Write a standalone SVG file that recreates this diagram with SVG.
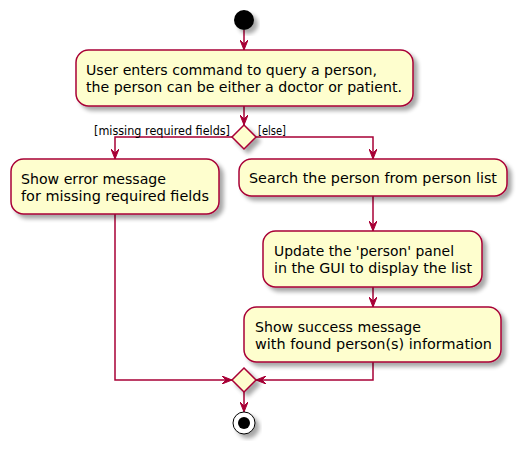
<svg xmlns="http://www.w3.org/2000/svg" width="527" height="450" viewBox="0 0 527 450">
<style>
.box{fill:#FEFECE;stroke:#A80036;stroke-width:1.5;filter:url(#sh)}
.dia{fill:#FEFECE;stroke:#A80036;stroke-width:1.5;filter:url(#sh)}
.t{font-family:"DejaVu Sans",sans-serif;font-size:13.5px;fill:#000}
.lbl{font-family:"DejaVu Sans",sans-serif;font-size:12px;fill:#000}
.c{fill:none;stroke:#A80036;stroke-width:1.5}
</style>
<defs>
<filter id="sh" x="-20%" y="-20%" width="150%" height="150%">
<feGaussianBlur in="SourceAlpha" stdDeviation="2"/>
<feOffset dx="4" dy="4" result="b"/>
<feComponentTransfer><feFuncA type="linear" slope="0.35"/></feComponentTransfer>
<feMerge><feMergeNode/><feMergeNode in="SourceGraphic"/></feMerge>
</filter>
<marker id="ah" viewBox="0 0 10 8" refX="10" refY="4" markerWidth="10" markerHeight="8" markerUnits="userSpaceOnUse" orient="auto">
<path d="M0,0 L10,4 L0,8 L4,4 Z" fill="#A80036" stroke="#A80036" stroke-width="1"/>
</marker>
</defs>
<g id="connectors">
<path class="c" d="M244,30 L244,50" marker-end="url(#ah)"/>
<path class="c" d="M244,106 L244,125" marker-end="url(#ah)"/>
<path class="c" d="M232,137 L115,137 L115,159" marker-end="url(#ah)"/>
<path class="c" d="M256,137 L373,137 L373,159" marker-end="url(#ah)"/>
<path class="c" d="M373,196 L373,231" marker-end="url(#ah)"/>
<path class="c" d="M373,287 L373,307" marker-end="url(#ah)"/>
<path class="c" d="M115,214 L115,380 L232,380" marker-end="url(#ah)"/>
<path class="c" d="M373,362 L373,380 L256,380" marker-end="url(#ah)"/>
<path class="c" d="M244,392 L244,412" marker-end="url(#ah)"/>
<text class="lbl" x="94" y="135" textLength="136" lengthAdjust="spacingAndGlyphs">[missing required fields]</text>
<text class="lbl" x="258" y="135" textLength="28" lengthAdjust="spacingAndGlyphs">[else]</text>
</g>
<g id="start"><circle cx="244" cy="20" r="10" fill="#000" filter="url(#sh)"/></g>
<g id="query">
<rect class="box" x="76" y="50" width="337" height="56" rx="12.5"/>
<text class="t" x="86" y="75" textLength="291" lengthAdjust="spacingAndGlyphs">User enters command to query a person,</text>
<text class="t" x="86" y="92" textLength="316" lengthAdjust="spacingAndGlyphs">the person can be either a doctor or patient.</text>
</g>
<g id="decision"><polygon class="dia" points="244,125 256,137 244,149 232,137"/></g>
<g id="error">
<rect class="box" x="11" y="159" width="208" height="55" rx="12.5"/>
<text class="t" x="21" y="184" textLength="145" lengthAdjust="spacingAndGlyphs">Show error message</text>
<text class="t" x="21" y="201" textLength="188" lengthAdjust="spacingAndGlyphs">for missing required fields</text>
</g>
<g id="search">
<rect class="box" x="239" y="159" width="268" height="37" rx="12.5"/>
<text class="t" x="249" y="183" textLength="248" lengthAdjust="spacingAndGlyphs">Search the person from person list</text>
</g>
<g id="update">
<rect class="box" x="263" y="231" width="219" height="56" rx="12.5"/>
<text class="t" x="274" y="256" textLength="180" lengthAdjust="spacingAndGlyphs">Update the 'person' panel</text>
<text class="t" x="274" y="273" textLength="198" lengthAdjust="spacingAndGlyphs">in the GUI to display the list</text>
</g>
<g id="success">
<rect class="box" x="244" y="307" width="257" height="55" rx="12.5"/>
<text class="t" x="255" y="332" textLength="166" lengthAdjust="spacingAndGlyphs">Show success message</text>
<text class="t" x="255" y="349" textLength="237" lengthAdjust="spacingAndGlyphs">with found person(s) information</text>
</g>
<g id="merge"><polygon class="dia" points="244,368 256,380 244,392 232,380"/></g>
<g id="stop">
<circle cx="244" cy="423" r="11" fill="#fff" stroke="#000" stroke-width="1" filter="url(#sh)"/>
<circle cx="244" cy="423" r="6" fill="#000"/>
</g>
</svg>
